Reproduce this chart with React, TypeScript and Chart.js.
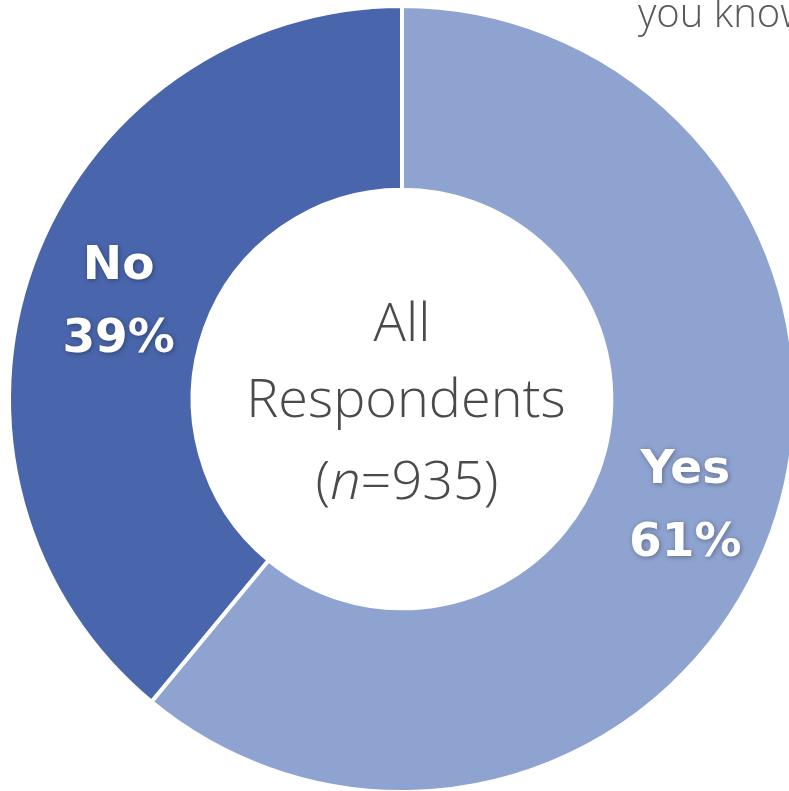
import React, { useEffect, useRef } from "react";
import { Chart, registerables } from "chart.js";

Chart.register(...registerables);

const categories: string[] = ["Yes", "No"];
const values: number[] = [61, 39];
const colors: string[] = ["#8FA3D0", "#4965AC"];
const centerLines: string[] = ["All", "Respondents"];
const sampleSize: number = 935;
const clippedTitle: string = "you know";

const labelPlugin = {
  id: "labelPlugin",
  afterDatasetsDraw(chart: any) {
    const ctx: CanvasRenderingContext2D = chart.ctx;
    const meta = chart.getDatasetMeta(0);
    const total = values.reduce((a, b) => a + b, 0);
    ctx.save();
    ctx.textAlign = "center";
    ctx.textBaseline = "alphabetic";
    ctx.fillStyle = "#ffffff";
    ctx.font = "bold 47px 'DejaVu Sans', sans-serif";
    ctx.shadowColor = "rgba(0,0,0,0.35)";
    ctx.shadowBlur = 5;
    ctx.shadowOffsetX = 1;
    ctx.shadowOffsetY = 1;
    meta.data.forEach((arc: any, i: number) => {
      const p = arc.tooltipPosition();
      const pct = Math.round((values[i] / total) * 100) + "%";
      ctx.fillText(categories[i], p.x, p.y - 18);
      ctx.fillText(pct, p.x, p.y + 55);
    });
    ctx.restore();

    // center text
    const cx = (chart.chartArea.left + chart.chartArea.right) / 2;
    const cy = (chart.chartArea.top + chart.chartArea.bottom) / 2;
    ctx.save();
    ctx.fillStyle = "#4a4a4a";
    ctx.textBaseline = "alphabetic";
    ctx.textAlign = "center";
    const f = "300 54px 'Open Sans', sans-serif";
    const fi = "italic 300 54px 'Open Sans', sans-serif";
    ctx.font = f;
    ctx.fillText(centerLines[0], cx, cy - 58);
    ctx.fillText(centerLines[1], cx + 4, cy + 18);
    // (n=935) with italic n
    const a = "(";
    const b = "n";
    const c = "=" + sampleSize + ")";
    ctx.font = f;
    const wa = ctx.measureText(a).width;
    const wc = ctx.measureText(c).width;
    ctx.font = fi;
    const wb = ctx.measureText(b).width;
    const tot = wa + wb + wc;
    let x = cx + 5 - tot / 2;
    const y = cy + 100;
    ctx.textAlign = "left";
    ctx.font = f;
    ctx.fillText(a, x, y);
    x += wa;
    ctx.font = fi;
    ctx.fillText(b, x, y);
    x += wb;
    ctx.font = f;
    ctx.fillText(c, x, y);

    // clipped title text at top right
    ctx.fillStyle = "#595959";
    ctx.font = "300 40px 'Open Sans', sans-serif";
    ctx.fillText(clippedTitle, 638, 28);
    ctx.restore();
  },
};

export default function App() {
  const ref = useRef<HTMLCanvasElement | null>(null);
  useEffect(() => {
    if (!ref.current) return;
    const chart = new Chart(ref.current, {
      type: "doughnut",
      data: {
        labels: categories,
        datasets: [
          {
            data: values,
            backgroundColor: colors,
            borderColor: "#ffffff",
            borderWidth: 4,
          },
        ],
      },
      options: {
        responsive: false,
        animation: false,
        radius: 393,
        cutout: 212,
        layout: { padding: 0 },
        plugins: {
          legend: { display: false },
          tooltip: { enabled: false },
          title: { display: false },
        },
      } as any,
      plugins: [labelPlugin],
    });
    return () => chart.destroy();
  }, []);
  return (
    <div
      style={{
        position: "absolute",
        left: 0,
        top: 0,
        width: 789,
        height: 791,
        overflow: "hidden",
        background: "#ffffff",
      }}
    >
      <canvas
        ref={ref}
        width={804}
        height={800}
        style={{ position: "absolute", left: 0, top: -1, width: 804, height: 800 }}
      />
    </div>
  );
}
